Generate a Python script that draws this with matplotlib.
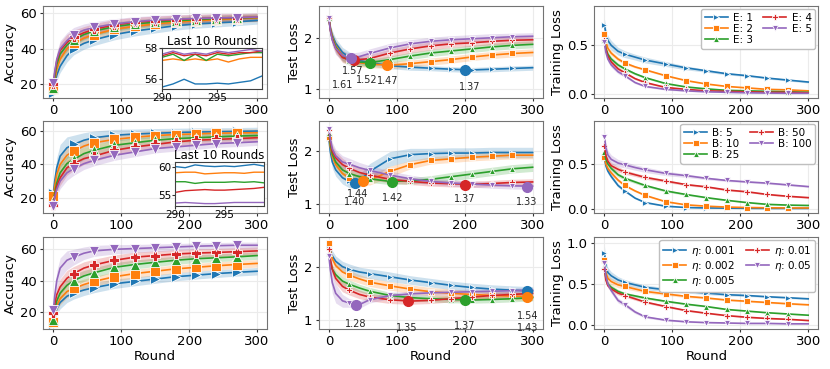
import numpy as np
import matplotlib
matplotlib.use('Agg')
import matplotlib.pyplot as plt

rounds = [0, 2, 5, 10, 20, 30, 45, 60, 90, 120, 150, 180, 210, 240, 270, 300]
last10 = [290, 291, 292, 293, 294, 295, 296, 297, 298, 299]

labels_E = ['E: 1', 'E: 2', 'E: 3', 'E: 4', 'E: 5']
labels_B = ['B: 5', 'B: 10', 'B: 25', 'B: 50', 'B: 100']
labels_lr = [r'$\eta$: 0.001', r'$\eta$: 0.002', r'$\eta$: 0.005', r'$\eta$: 0.01', r'$\eta$: 0.05']

# ---- accuracy ----
acc_E = [
    [15, 20, 25, 30, 36, 40, 43, 45, 48, 50, 51.5, 53, 54, 54.6, 55.2, 56],
    [17, 22, 28, 34, 40, 43, 46, 48, 51, 52.7, 54, 55, 55.8, 56.4, 57, 57.4],
    [18, 24, 31, 37, 42, 45, 48, 50, 52.5, 54, 55, 55.8, 56.4, 57, 57.3, 57.7],
    [20, 26, 33, 39, 43.5, 46.5, 49, 51, 53.5, 55, 55.8, 56.5, 57, 57.3, 57.6, 57.8],
    [20.5, 27, 34, 40, 44.5, 48, 50.5, 52, 54, 55.3, 56.2, 56.7, 57.1, 57.4, 57.6, 57.9],
]
acc_E_sd = [
    [1, 2, 3, 3.5, 3.5, 3.5, 3.3, 3.2, 3, 2.8, 2.6, 2.5, 2.4, 2.3, 2.2, 2.1],
    [1, 2, 3, 3.5, 3.5, 3.3, 3, 2.8, 2.6, 2.5, 2.4, 2.3, 2.2, 2.2, 2.1, 2.1],
    [1, 2, 3, 3.5, 3.5, 3.3, 3, 2.8, 2.6, 2.5, 2.4, 2.3, 2.2, 2.2, 2.1, 2.1],
    [1, 3, 4, 4.5, 4.5, 4, 3.5, 3.2, 3, 2.8, 2.6, 2.5, 2.4, 2.4, 2.3, 2.3],
    [1, 3, 4, 4.5, 4.5, 4, 3.5, 3.2, 3, 2.8, 2.6, 2.5, 2.4, 2.4, 2.3, 2.3],
]
acc_B = [
    [23, 30, 38, 45, 50, 52, 54.5, 56, 57.5, 58.2, 58.7, 59.1, 59.4, 59.6, 59.8, 60],
    [21, 27, 34, 40, 45.5, 48, 51, 53, 55, 56.3, 57.3, 57.9, 58.3, 58.7, 58.9, 59],
    [18, 23, 29, 35, 40.5, 43, 46.5, 48.5, 51.5, 53, 54.5, 55.5, 56, 56.5, 57, 57.3],
    [16, 21, 27, 32, 38, 40.5, 43.5, 45, 48.5, 50.5, 52, 53.5, 54.5, 55, 55.5, 56],
    [15, 20, 25, 30, 35, 37.5, 40.5, 42.5, 45.5, 47.5, 49.5, 50.5, 51.5, 52.5, 53, 53.6],
]
acc_B_sd = [
    [1, 4, 6, 7, 6.5, 5.5, 4.5, 4, 3.5, 3, 2.8, 2.6, 2.5, 2.4, 2.3, 2.3],
    [1, 3.5, 5, 5.5, 5, 4.5, 4, 3.5, 3.2, 3, 2.8, 2.6, 2.5, 2.4, 2.3, 2.3],
    [1, 3, 4, 4.5, 4.5, 4, 3.5, 3.2, 3, 2.8, 2.6, 2.5, 2.4, 2.3, 2.3, 2.2],
    [1, 3, 4, 4.5, 4.5, 4, 3.5, 3.2, 3, 2.8, 2.6, 2.5, 2.4, 2.3, 2.3, 2.2],
    [1, 3, 4, 4.5, 4.5, 4, 3.5, 3.3, 3, 2.8, 2.6, 2.5, 2.4, 2.3, 2.3, 2.2],
]
acc_lr = [
    [12, 17, 22, 26, 30, 32, 34, 35.5, 38, 39.5, 41, 42.5, 43.5, 44.5, 45.3, 46],
    [13.5, 19, 24, 28.5, 33, 35, 37.5, 39.5, 42.5, 44.5, 46, 47.5, 48.5, 49.5, 50.3, 51],
    [15, 21, 27, 32, 37, 40, 43, 45, 48.5, 50.3, 51.7, 53, 54, 54.6, 55.2, 56],
    [19, 25, 31, 36, 41.5, 44.5, 48, 50, 53, 55, 56, 57, 57.6, 58, 58.5, 59],
    [21, 30, 40, 48, 53, 55, 57.5, 59, 60, 60.5, 61, 61.5, 62, 62.3, 62.6, 62.6],
]
acc_lr_sd = [
    [1, 2.5, 3.5, 4, 4, 3.8, 3.5, 3.2, 3, 2.8, 2.7, 2.6, 2.5, 2.5, 2.4, 2.4],
    [1, 2.5, 3.5, 4, 4, 3.8, 3.5, 3.2, 3, 2.8, 2.7, 2.6, 2.5, 2.5, 2.4, 2.4],
    [1, 2.5, 3.5, 4, 4, 3.8, 3.5, 3.2, 3, 2.8, 2.7, 2.6, 2.5, 2.5, 2.4, 2.4],
    [1, 3, 4, 5, 5, 4.5, 4, 3.7, 3.4, 3.2, 3, 2.8, 2.7, 2.6, 2.5, 2.5],
    [1, 4, 6, 6.5, 6, 5, 4, 3.5, 3, 2.6, 2.4, 2.2, 2.1, 2, 2, 2],
]

# last 10 rounds (insets)
inset_E = [
    [55.5, 55.7, 56.0, 55.7, 55.7, 55.75, 55.7, 55.8, 55.9, 56.2],
    [57.2, 57.3, 57.2, 57.3, 57.2, 57.3, 57.1, 57.3, 57.4, 57.4],
    [57.4, 57.6, 57.2, 57.6, 57.2, 57.6, 57.5, 57.6, 57.7, 57.7],
    [57.5, 57.7, 57.5, 57.6, 57.5, 57.7, 57.6, 57.7, 57.7, 57.8],
    [57.6, 57.8, 57.6, 57.7, 57.6, 57.8, 57.7, 57.8, 57.9, 57.8],
]
inset_B = [
    [60.0, 59.8, 60.3, 60.1, 60.0, 60.1, 60.0, 60.2, 60.4, 60.1],
    [58.9, 59.0, 59.0, 58.7, 58.8, 58.9, 58.9, 58.8, 59.0, 59.0],
    [57.3, 57.3, 57.0, 57.2, 57.2, 57.2, 57.3, 57.2, 57.3, 57.1],
    [55.4, 55.7, 55.8, 55.9, 55.8, 55.8, 55.9, 56.0, 56.1, 56.3],
    [53.5, 53.6, 53.5, 53.4, 53.4, 53.5, 53.6, 53.6, 53.6, 53.6],
]

# ---- test loss ----
loss_E = [
    [2.4, 2.2, 2.05, 1.9, 1.72, 1.63, 1.56, 1.52, 1.46, 1.43, 1.41, 1.39, 1.375, 1.39, 1.405, 1.42],
    [2.4, 2.2, 2.02, 1.85, 1.66, 1.57, 1.52, 1.49, 1.47, 1.5, 1.54, 1.58, 1.63, 1.67, 1.7, 1.72],
    [2.4, 2.18, 2.0, 1.83, 1.64, 1.56, 1.53, 1.52, 1.58, 1.65, 1.71, 1.75, 1.79, 1.83, 1.86, 1.88],
    [2.4, 2.17, 1.98, 1.8, 1.62, 1.575, 1.58, 1.6, 1.71, 1.79, 1.85, 1.89, 1.91, 1.94, 1.96, 1.97],
    [2.4, 2.16, 1.96, 1.8, 1.66, 1.615, 1.64, 1.7, 1.81, 1.89, 1.94, 1.97, 1.99, 2.01, 2.03, 2.04],
]
loss_E_sd = [
    [0.05, 0.08, 0.1, 0.1, 0.1, 0.1, 0.08, 0.07, 0.06, 0.06, 0.05, 0.05, 0.05, 0.05, 0.05, 0.05],
    [0.05, 0.08, 0.1, 0.1, 0.1, 0.09, 0.08, 0.07, 0.07, 0.07, 0.07, 0.07, 0.07, 0.07, 0.07, 0.07],
    [0.05, 0.08, 0.1, 0.1, 0.1, 0.09, 0.08, 0.07, 0.07, 0.07, 0.07, 0.07, 0.07, 0.07, 0.07, 0.07],
    [0.05, 0.08, 0.1, 0.1, 0.1, 0.09, 0.08, 0.08, 0.08, 0.08, 0.08, 0.07, 0.07, 0.07, 0.07, 0.07],
    [0.05, 0.1, 0.12, 0.12, 0.1, 0.09, 0.09, 0.09, 0.09, 0.08, 0.08, 0.08, 0.08, 0.08, 0.07, 0.07],
]
loss_B = [
    [2.25, 2.0, 1.8, 1.65, 1.5, 1.43, 1.44, 1.62, 1.86, 1.94, 1.96, 1.97, 1.97, 1.98, 1.98, 1.98],
    [2.28, 2.1, 1.9, 1.75, 1.58, 1.5, 1.45, 1.46, 1.62, 1.75, 1.83, 1.86, 1.89, 1.91, 1.93, 1.93],
    [2.35, 2.15, 1.95, 1.8, 1.65, 1.58, 1.52, 1.48, 1.43, 1.44, 1.47, 1.52, 1.57, 1.62, 1.67, 1.7],
    [2.4, 2.2, 2.0, 1.88, 1.75, 1.68, 1.6, 1.55, 1.47, 1.43, 1.4, 1.385, 1.375, 1.39, 1.41, 1.42],
    [2.42, 2.25, 2.05, 1.92, 1.8, 1.76, 1.69, 1.64, 1.55, 1.48, 1.43, 1.4, 1.38, 1.36, 1.345, 1.34],
]
loss_B_sd = [
    [0.05, 0.1, 0.12, 0.12, 0.12, 0.12, 0.12, 0.15, 0.14, 0.12, 0.1, 0.1, 0.1, 0.1, 0.1, 0.1],
    [0.05, 0.1, 0.1, 0.1, 0.1, 0.1, 0.09, 0.1, 0.1, 0.08, 0.07, 0.07, 0.07, 0.07, 0.07, 0.07],
    [0.05, 0.1, 0.1, 0.1, 0.1, 0.09, 0.08, 0.07, 0.06, 0.06, 0.07, 0.08, 0.08, 0.08, 0.08, 0.08],
    [0.05, 0.1, 0.12, 0.12, 0.12, 0.1, 0.09, 0.08, 0.07, 0.06, 0.06, 0.06, 0.06, 0.06, 0.06, 0.06],
    [0.05, 0.1, 0.12, 0.12, 0.12, 0.11, 0.1, 0.09, 0.08, 0.07, 0.06, 0.06, 0.06, 0.06, 0.06, 0.06],
]
loss_lr = [
    [2.4, 2.3, 2.2, 2.1, 2.0, 1.95, 1.9, 1.87, 1.81, 1.75, 1.7, 1.65, 1.61, 1.58, 1.56, 1.545],
    [2.45, 2.3, 2.15, 2.02, 1.9, 1.84, 1.77, 1.71, 1.64, 1.58, 1.53, 1.5, 1.48, 1.46, 1.45, 1.435],
    [2.25, 2.1, 1.95, 1.85, 1.73, 1.67, 1.6, 1.54, 1.46, 1.42, 1.4, 1.385, 1.375, 1.385, 1.4, 1.42],
    [2.33, 2.15, 1.95, 1.78, 1.63, 1.56, 1.48, 1.43, 1.38, 1.355, 1.37, 1.4, 1.43, 1.46, 1.48, 1.5],
    [2.2, 1.95, 1.7, 1.5, 1.36, 1.32, 1.29, 1.38, 1.46, 1.49, 1.51, 1.52, 1.53, 1.54, 1.55, 1.56],
]
loss_lr_sd = [
    [0.05, 0.1, 0.1, 0.1, 0.1, 0.1, 0.09, 0.09, 0.09, 0.08, 0.08, 0.08, 0.08, 0.08, 0.08, 0.08],
    [0.05, 0.08, 0.09, 0.09, 0.09, 0.09, 0.08, 0.08, 0.08, 0.08, 0.08, 0.08, 0.07, 0.07, 0.07, 0.07],
    [0.05, 0.08, 0.08, 0.08, 0.08, 0.08, 0.07, 0.07, 0.06, 0.06, 0.06, 0.06, 0.06, 0.06, 0.06, 0.06],
    [0.05, 0.08, 0.1, 0.1, 0.1, 0.09, 0.08, 0.07, 0.07, 0.06, 0.06, 0.06, 0.06, 0.06, 0.06, 0.06],
    [0.05, 0.15, 0.2, 0.18, 0.12, 0.08, 0.07, 0.06, 0.06, 0.05, 0.05, 0.05, 0.05, 0.05, 0.05, 0.05],
]

# best test loss per series: round, value, and where its label sits
best_E_x = [200, 85, 60, 37, 33]
best_E_y = [1.37, 1.47, 1.52, 1.57, 1.61]
best_E_lx = [207, 87, 56, 35, 20]
best_E_ly = [1.04, 1.16, 1.18, 1.35, 1.08]
best_B_x = [38, 50, 93, 200, 292]
best_B_y = [1.40, 1.44, 1.42, 1.37, 1.33]
best_B_lx = [38, 43, 94, 200, 291]
best_B_ly = [1.03, 1.19, 1.11, 1.09, 1.04]
best_lr_x = [292, 292, 200, 117, 40]
best_lr_y = [1.54, 1.43, 1.37, 1.35, 1.28]
best_lr_lx = [293, 293, 200, 115, 40]
best_lr_ly = [1.08, 0.86, 0.89, 0.86, 0.92]

# ---- training loss ----
train_E = [
    [0.71, 0.62, 0.55, 0.5, 0.44, 0.41, 0.38, 0.35, 0.31, 0.27, 0.24, 0.21, 0.19, 0.165, 0.145, 0.125],
    [0.62, 0.54, 0.47, 0.42, 0.36, 0.32, 0.28, 0.25, 0.19, 0.14, 0.105, 0.08, 0.065, 0.05, 0.045, 0.035],
    [0.55, 0.47, 0.41, 0.36, 0.3, 0.26, 0.21, 0.17, 0.11, 0.075, 0.055, 0.04, 0.035, 0.03, 0.025, 0.02],
    [0.56, 0.46, 0.39, 0.33, 0.26, 0.22, 0.16, 0.12, 0.07, 0.05, 0.035, 0.03, 0.025, 0.02, 0.02, 0.015],
    [0.53, 0.43, 0.36, 0.3, 0.23, 0.19, 0.12, 0.08, 0.05, 0.035, 0.025, 0.02, 0.015, 0.012, 0.01, 0.01],
]
train_E_sd = [
    [0.06, 0.06, 0.05, 0.05, 0.04, 0.035, 0.03, 0.03, 0.025, 0.02, 0.015, 0.012, 0.01, 0.01, 0.01, 0.01],
    [0.03, 0.03, 0.03, 0.025, 0.02, 0.015, 0.012, 0.01, 0.008, 0.006, 0.005, 0.004, 0.004, 0.004, 0.004, 0.004],
    [0.03, 0.03, 0.03, 0.025, 0.02, 0.015, 0.012, 0.01, 0.008, 0.006, 0.005, 0.004, 0.004, 0.004, 0.004, 0.004],
    [0.03, 0.03, 0.03, 0.025, 0.02, 0.015, 0.012, 0.01, 0.008, 0.006, 0.005, 0.004, 0.004, 0.004, 0.004, 0.004],
    [0.03, 0.03, 0.03, 0.025, 0.02, 0.015, 0.012, 0.01, 0.008, 0.006, 0.005, 0.004, 0.004, 0.004, 0.004, 0.004],
]
train_B = [
    [0.57, 0.48, 0.42, 0.36, 0.26, 0.2, 0.12, 0.07, 0.03, 0.015, 0.01, 0.008, 0.006, 0.005, 0.005, 0.005],
    [0.58, 0.5, 0.45, 0.4, 0.32, 0.26, 0.2, 0.15, 0.08, 0.045, 0.03, 0.02, 0.015, 0.012, 0.01, 0.01],
    [0.63, 0.55, 0.5, 0.45, 0.38, 0.34, 0.3, 0.26, 0.2, 0.16, 0.125, 0.095, 0.07, 0.05, 0.042, 0.038],
    [0.7, 0.6, 0.53, 0.48, 0.44, 0.41, 0.38, 0.35, 0.31, 0.27, 0.245, 0.21, 0.19, 0.16, 0.14, 0.125],
    [0.8, 0.68, 0.6, 0.55, 0.51, 0.49, 0.46, 0.435, 0.395, 0.37, 0.34, 0.316, 0.3, 0.286, 0.267, 0.248],
]
train_B_sd = [
    [0.03, 0.03, 0.03, 0.025, 0.02, 0.015, 0.01, 0.008, 0.005, 0.004, 0.003, 0.003, 0.003, 0.003, 0.003, 0.003],
    [0.03, 0.03, 0.03, 0.025, 0.02, 0.015, 0.012, 0.01, 0.008, 0.006, 0.005, 0.004, 0.004, 0.004, 0.004, 0.004],
    [0.04, 0.035, 0.03, 0.03, 0.025, 0.02, 0.018, 0.015, 0.012, 0.01, 0.008, 0.007, 0.006, 0.006, 0.005, 0.005],
    [0.06, 0.05, 0.04, 0.035, 0.03, 0.025, 0.02, 0.02, 0.015, 0.012, 0.01, 0.01, 0.008, 0.008, 0.008, 0.008],
    [0.08, 0.06, 0.05, 0.05, 0.04, 0.035, 0.03, 0.03, 0.025, 0.02, 0.015, 0.012, 0.01, 0.01, 0.01, 0.01],
]
train_lr = [
    [0.88, 0.72, 0.64, 0.6, 0.55, 0.52, 0.49, 0.46, 0.43, 0.41, 0.39, 0.37, 0.36, 0.345, 0.333, 0.32],
    [0.79, 0.64, 0.57, 0.53, 0.49, 0.47, 0.44, 0.41, 0.38, 0.35, 0.33, 0.305, 0.29, 0.275, 0.26, 0.247],
    [0.72, 0.58, 0.5, 0.46, 0.41, 0.38, 0.355, 0.33, 0.29, 0.255, 0.226, 0.19, 0.17, 0.15, 0.135, 0.12],
    [0.68, 0.55, 0.48, 0.44, 0.39, 0.36, 0.32, 0.28, 0.226, 0.177, 0.144, 0.115, 0.095, 0.08, 0.07, 0.055],
    [0.76, 0.6, 0.5, 0.42, 0.3, 0.25, 0.16, 0.1, 0.06, 0.04, 0.03, 0.025, 0.02, 0.02, 0.015, 0.015],
]
train_lr_sd = [
    [0.08, 0.07, 0.06, 0.05, 0.04, 0.035, 0.03, 0.03, 0.025, 0.02, 0.018, 0.015, 0.012, 0.01, 0.01, 0.01],
    [0.06, 0.05, 0.045, 0.04, 0.035, 0.03, 0.025, 0.02, 0.018, 0.015, 0.012, 0.01, 0.01, 0.01, 0.01, 0.01],
    [0.04, 0.035, 0.03, 0.03, 0.025, 0.02, 0.018, 0.015, 0.012, 0.01, 0.008, 0.007, 0.006, 0.006, 0.005, 0.005],
    [0.04, 0.035, 0.03, 0.03, 0.025, 0.02, 0.018, 0.015, 0.012, 0.01, 0.008, 0.007, 0.006, 0.006, 0.005, 0.005],
    [0.05, 0.05, 0.04, 0.035, 0.03, 0.025, 0.02, 0.015, 0.01, 0.008, 0.007, 0.006, 0.005, 0.005, 0.005, 0.005],
]

colors = ['#1f77b4', '#ff7f0e', '#2ca02c', '#d62728', '#9467bd']
markers = ['>', 's', '^', 'P', 'v']
mark_idx = [i for i, r in enumerate(rounds) if r % 30 == 0 and r < 300]

plt.rcParams['font.size'] = 9.5
plt.rcParams['axes.labelsize'] = 9.5
plt.rcParams['axes.labelpad'] = 2
plt.rcParams['axes.edgecolor'] = '0.45'
plt.rcParams['xtick.color'] = '0.2'
plt.rcParams['ytick.color'] = '0.2'
plt.rcParams['xtick.labelcolor'] = 'black'
plt.rcParams['ytick.labelcolor'] = 'black'
plt.rcParams['xtick.major.size'] = 2.5
plt.rcParams['ytick.major.size'] = 2.5
plt.rcParams['xtick.major.pad'] = 2
plt.rcParams['ytick.major.pad'] = 2

fig = plt.figure(figsize=(8.3, 3.69), dpi=100)

lefts = [0.052, 0.384, 0.716]
bottoms = [0.734, 0.423, 0.108]
w, h = 0.270, 0.249


def draw(ax, means, sds, labels, ms):
    x = np.array(rounds)
    for i in range(5):
        m = np.array(means[i])
        s = np.array(sds[i])
        ax.fill_between(x, m - s, m + s, color=colors[i], alpha=0.22, lw=0)
        ax.plot(x, m, color=colors[i], marker=markers[i], markevery=mark_idx,
                ms=ms, mec='white', mew=0.6, lw=1.2, label=labels[i])
    ax.grid(color='#ebebeb', lw=0.8)
    ax.set_axisbelow(True)
    ax.set_xticks([0, 100, 200, 300])


def inset(ax, vals, box, yticks):
    ia = ax.inset_axes(box)
    for i in range(5):
        ia.plot(last10, vals[i], color=colors[i], lw=1.0)
    ia.set_xlim(last10[0], last10[-1])
    ia.set_xticks([290, 295])
    ia.set_yticks(yticks)
    ia.tick_params(labelsize=7.5, length=2, pad=1)
    ia.set_title('Last 10 Rounds', fontsize=8.5, pad=2)
    for sp in ia.spines.values():
        sp.set_color('0.25')


def best(ax, bx, by, lx, ly):
    for i in range(5):
        ax.plot(bx[i], by[i], 'o', color=colors[i], ms=7, zorder=5)
        ax.text(lx[i], ly[i], '%.2f' % by[i], fontsize=7, ha='center', va='center', color='0.15')


sets = [
    (acc_E, acc_E_sd, loss_E, loss_E_sd, train_E, train_E_sd, labels_E,
     (best_E_x, best_E_y, best_E_lx, best_E_ly)),
    (acc_B, acc_B_sd, loss_B, loss_B_sd, train_B, train_B_sd, labels_B,
     (best_B_x, best_B_y, best_B_lx, best_B_ly)),
    (acc_lr, acc_lr_sd, loss_lr, loss_lr_sd, train_lr, train_lr_sd, labels_lr,
     (best_lr_x, best_lr_y, best_lr_lx, best_lr_ly)),
]
acc_lims = [(12, 64), (11, 66), (9, 67.7)]
loss_lims = [(0.82, 2.63), (0.83, 2.58), (0.83, 2.55)]
train_lims = [(-0.04, 0.9), (-0.045, 0.977), (-0.05, 1.07)]

for r, (acc, acc_sd, tl, tl_sd, tr, tr_sd, labs, bst) in enumerate(sets):
    ax1 = fig.add_axes([lefts[0], bottoms[r], w, h])
    draw(ax1, acc, acc_sd, labs, 6.5)
    ax1.set_ylim(*acc_lims[r])
    ax1.set_yticks([20, 40, 60])
    ax1.set_ylabel('Accuracy')

    ax2 = fig.add_axes([lefts[1], bottoms[r], w, h])
    draw(ax2, tl, tl_sd, labs, 5)
    best(ax2, *bst)
    ax2.set_ylim(*loss_lims[r])
    ax2.set_yticks([1, 2])
    ax2.set_ylabel('Test Loss')

    ax3 = fig.add_axes([lefts[2], bottoms[r], w, h])
    draw(ax3, tr, tr_sd, labs, 5)
    ax3.set_ylim(*train_lims[r])
    ax3.set_yticks([0.0, 0.5, 1.0] if r == 2 else [0.0, 0.5])
    ax3.set_ylabel('Training Loss')
    ax3.legend(loc='upper right', ncol=2, fontsize=7.5, labelspacing=0.1,
               columnspacing=1.0, handletextpad=0.5, borderpad=0.35, handlelength=2.2,
               framealpha=1, edgecolor='0.75', borderaxespad=0.3)

    if r == 0:
        inset(ax1, inset_E, [0.53, 0.10, 0.445, 0.45], [56, 58])
    if r == 1:
        inset(ax1, inset_B, [0.59, 0.08, 0.395, 0.47], [55, 60])
    if r == 2:
        for a in (ax1, ax2, ax3):
            a.set_xlabel('Round', labelpad=1)

plt.savefig('out.png', dpi=100)
